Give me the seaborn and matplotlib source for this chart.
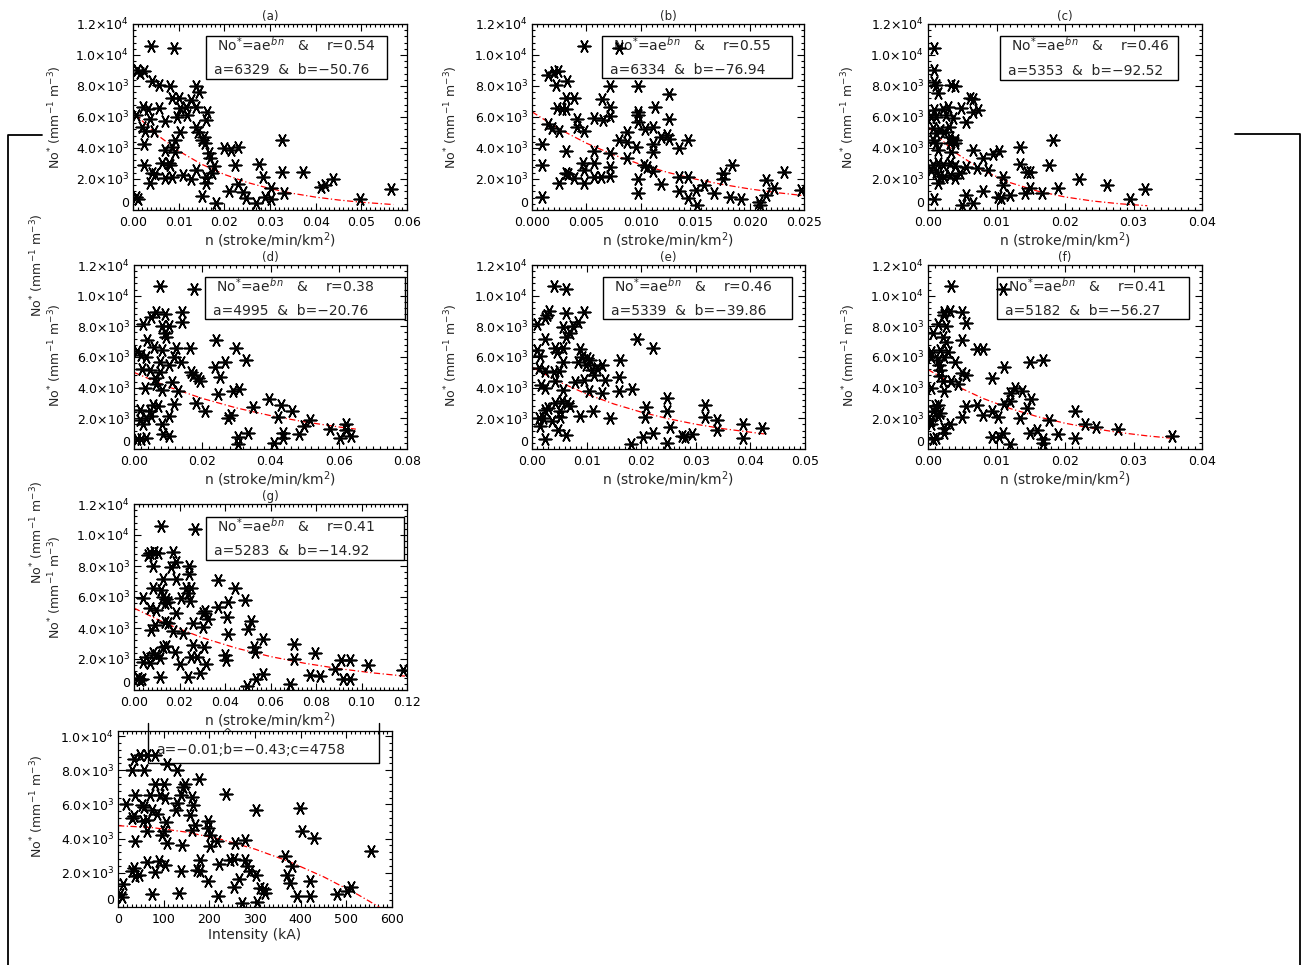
import numpy as np
import pandas as pd
import matplotlib
matplotlib.use("Agg")
import matplotlib.pyplot as plt
import seaborn as sns
from matplotlib.ticker import MultipleLocator, FuncFormatter
from matplotlib.patches import Rectangle
from matplotlib.lines import Line2D

W, H = 1305, 965

# ---- data: (n, No*) pairs per panel ----
a_pts = [(0.0040, 10600), (0.0089, 10430), (0.0009, 9030), (0.0016, 8815), (0.0025, 8990), (0.0042, 8320),
         (0.0056, 8060), (0.0082, 8000), (0.0137, 8000), (0.0144, 7630), (0.0086, 7200), (0.0100, 7245),
         (0.0128, 7100), (0.0021, 6620), (0.0032, 6515), (0.0058, 6560), (0.0104, 6560), (0.0116, 6665),
         (0.0137, 6620), (0.0163, 6340), (0.0007, 6130), (0.0038, 5850), (0.0097, 6020), (0.0119, 6130),
         (0.0159, 5800), (0.0071, 5760), (0.0020, 5375), (0.0027, 5120), (0.0045, 5120), (0.0137, 5375),
         (0.0143, 5050), (0.0104, 5050), (0.0155, 4730), (0.0152, 4515), (0.0157, 4340), (0.0092, 4515),
         (0.0326, 4515), (0.0025, 4260), (0.0086, 4085), (0.0069, 3870), (0.0093, 3760), (0.0166, 3655),
         (0.0168, 3330), (0.0199, 3980), (0.0214, 3870), (0.0229, 4085), (0.0023, 2900), (0.0064, 3010),
         (0.0082, 2900), (0.0078, 3050), (0.0177, 2860), (0.0223, 2900), (0.0276, 2970), (0.0284, 2150),
         (0.0327, 2470), (0.0373, 2470), (0.0042, 2365), (0.0049, 2320), (0.0038, 1760), (0.0071, 2040),
         (0.0086, 2100), (0.0109, 2260), (0.0128, 1980), (0.0138, 2580), (0.0159, 2150), (0.0160, 1720),
         (0.0174, 2365), (0.0229, 1655), (0.0210, 1250), (0.0152, 925), (0.0240, 1180), (0.0247, 750),
         (0.0269, 430), (0.0181, 430), (0.0289, 860), (0.0302, 1400), (0.0302, 710), (0.0331, 1075),
         (0.0412, 1505), (0.0421, 1610), (0.0437, 1980), (0.0496, 710), (0.0564, 1355), (0.0007, 860),
         (0.0010, 690)]

b_pts = [(0.00475, 10580), (0.0080, 10430), (0.0015, 8710), (0.0020, 8920), (0.0024, 8965), (0.0022, 8060),
         (0.0032, 8320), (0.0031, 7200), (0.0039, 7245), (0.0072, 8000), (0.0097, 8000), (0.0126, 7480),
         (0.0064, 7140), (0.0072, 6620), (0.0023, 6560), (0.0028, 6490), (0.0031, 6490), (0.0113, 6620),
         (0.0097, 6340), (0.0097, 6130), (0.0041, 5850), (0.0057, 5910), (0.0065, 5800), (0.0072, 6060),
         (0.0126, 5870), (0.0097, 5700), (0.0015, 5550), (0.0018, 5270), (0.0025, 5120), (0.0041, 5375),
         (0.0048, 5120), (0.0104, 5200), (0.0111, 5330), (0.0087, 5010), (0.0080, 4515), (0.0087, 4410),
         (0.0119, 4730), (0.0124, 4840), (0.0126, 4560), (0.0143, 4515), (0.0096, 4085), (0.0111, 4260),
         (0.0111, 3760), (0.0135, 3980), (0.0009, 4240), (0.0031, 3830), (0.0057, 3830), (0.0072, 3655),
         (0.0087, 3330), (0.0047, 3010), (0.0057, 3050), (0.0072, 2800), (0.0103, 2900), (0.0106, 2800),
         (0.0111, 2540), (0.0009, 2900), (0.0031, 2410), (0.0033, 2320), (0.0039, 2040), (0.0048, 2580),
         (0.0048, 1720), (0.0057, 2100), (0.0063, 2150), (0.0072, 2190), (0.0025, 1720), (0.0097, 2000),
         (0.0119, 1655), (0.0135, 2150), (0.0143, 2150), (0.0176, 2365), (0.0176, 2000), (0.0184, 2900),
         (0.0158, 1610), (0.0135, 1225), (0.0143, 750), (0.0151, 1290), (0.0152, 320), (0.0167, 1075),
         (0.0097, 1075), (0.0182, 860), (0.0192, 710), (0.0009, 860), (0.0209, 540), (0.0210, 320),
         (0.0215, 970), (0.0215, 1935), (0.0222, 1400), (0.0232, 2470), (0.0247, 1290)]

c_pts = [(0.0009, 10430), (0.0009, 9030), (0.0009, 8280), (0.0011, 8060), (0.0015, 7525), (0.0034, 8060),
         (0.0040, 8000), (0.0061, 7200), (0.0066, 7140), (0.0073, 6450), (0.0066, 6340), (0.0009, 6450),
         (0.0022, 6490), (0.0029, 6620), (0.0048, 6560), (0.0005, 6020), (0.0012, 6020), (0.0027, 6130),
         (0.0037, 5910), (0.0031, 5375), (0.0056, 5700), (0.0007, 5270), (0.0017, 5160), (0.0011, 4945),
         (0.0024, 5050), (0.0032, 4730), (0.0039, 4515), (0.0007, 4515), (0.0012, 4300), (0.0032, 4300),
         (0.0040, 4340), (0.0015, 3870), (0.0034, 3760), (0.0065, 3870), (0.0080, 3330), (0.0095, 3610),
         (0.0104, 3830), (0.0134, 4085), (0.0183, 4515), (0.0056, 2800), (0.0071, 2730), (0.0087, 2580),
         (0.0007, 2900), (0.0015, 3010), (0.0022, 2900), (0.0032, 3050), (0.0040, 2860), (0.0005, 2580),
         (0.0012, 2470), (0.0017, 2215), (0.0024, 2150), (0.0032, 2260), (0.0039, 2085), (0.0046, 2410),
         (0.0015, 1760), (0.0134, 2945), (0.0145, 2470), (0.0149, 2470), (0.0176, 2900), (0.0110, 2150),
         (0.0110, 1610), (0.0220, 1980), (0.0261, 1610), (0.0317, 1330), (0.0149, 1400), (0.0190, 1440),
         (0.0080, 1250), (0.0141, 1120), (0.0166, 1120), (0.0120, 970), (0.0102, 820), (0.0107, 800),
         (0.0055, 970), (0.0049, 320), (0.0065, 430), (0.0009, 710), (0.0295, 710)]

d_pts = [(0.0077, 10630), (0.0175, 10450), (0.0026, 8120), (0.0051, 8620), (0.0065, 8940), (0.0090, 8830),
         (0.0082, 8035), (0.0104, 8035), (0.0142, 8940), (0.0142, 8290), (0.0090, 7540), (0.0095, 7320),
         (0.0039, 7110), (0.0058, 6670), (0.0083, 6460), (0.0009, 6390), (0.0021, 6130), (0.0034, 6030),
         (0.0075, 5700), (0.0116, 6030), (0.0124, 6570), (0.0165, 6570), (0.0138, 5700), (0.0104, 5490),
         (0.0024, 5230), (0.0046, 5160), (0.0075, 5050), (0.0063, 4620), (0.0065, 4230), (0.0083, 3870),
         (0.0112, 4360), (0.0129, 3760), (0.0031, 3970), (0.0168, 5050), (0.0173, 4800), (0.0188, 4620),
         (0.0192, 4450), (0.0239, 7110), (0.0300, 6570), (0.0329, 5810), (0.0236, 5380), (0.0266, 5700),
         (0.0253, 4670), (0.0246, 3600), (0.0290, 3800), (0.0308, 3930), (0.0183, 3000), (0.0207, 2500),
         (0.0349, 2740), (0.0396, 3280), (0.0430, 2890), (0.0464, 2460), (0.0422, 2070), (0.0275, 1990),
         (0.0285, 2200), (0.0017, 2570), (0.0017, 1920), (0.0026, 1600), (0.0036, 2030), (0.0046, 2460),
         (0.0056, 2890), (0.0070, 2790), (0.0051, 2140), (0.0083, 1600), (0.0116, 2940), (0.0104, 2140),
         (0.0036, 730), (0.0021, 630), (0.0009, 630), (0.0085, 950), (0.0104, 840), (0.0305, 780),
         (0.0305, 300), (0.0334, 1060), (0.0410, 410), (0.0437, 730), (0.0437, 1060), (0.0484, 950),
         (0.0497, 1490), (0.0517, 1920), (0.0575, 1320), (0.0603, 730), (0.0622, 1600), (0.0622, 1270),
         (0.0637, 840)]

e_pts = [(0.0041, 10630), (0.0063, 10450), (0.0032, 8990), (0.0027, 8730), (0.0023, 8550), (0.0063, 8900),
         (0.0096, 8940), (0.0009, 8140), (0.0057, 7970), (0.0076, 8010), (0.0085, 8290), (0.0070, 7540),
         (0.0063, 7320), (0.0024, 7150), (0.0009, 6460), (0.0015, 6070), (0.0043, 6570), (0.0046, 6350),
         (0.0057, 6570), (0.0087, 6520), (0.0057, 5700), (0.0091, 6030), (0.0100, 5920), (0.0107, 5810),
         (0.0098, 5490), (0.0085, 5700), (0.0110, 5160), (0.0113, 4840), (0.0119, 5310), (0.0128, 5490),
         (0.0134, 4510), (0.0162, 5810), (0.0160, 4670), (0.0160, 3800), (0.0183, 3930), (0.0192, 7150),
         (0.0221, 6570), (0.0012, 5310), (0.0024, 5100), (0.0040, 5050), (0.0049, 5100), (0.0043, 4410),
         (0.0017, 4190), (0.0024, 3970), (0.0057, 3820), (0.0078, 4340), (0.0095, 4510), (0.0104, 3760),
         (0.0128, 3650), (0.0030, 2680), (0.0043, 3000), (0.0055, 3110), (0.0064, 3000), (0.0070, 2790),
         (0.0051, 2460), (0.0024, 2570), (0.0012, 2030), (0.0021, 2030), (0.0015, 1490), (0.0037, 1810),
         (0.0052, 2070), (0.0048, 1270), (0.0088, 2140), (0.0111, 2500), (0.0143, 1990), (0.0024, 670),
         (0.0063, 910), (0.0181, 350), (0.0204, 780), (0.0207, 2070), (0.0209, 2720), (0.0221, 1020),
         (0.0247, 3330), (0.0247, 2500), (0.0247, 370), (0.0252, 1430), (0.0274, 840), (0.0280, 780),
         (0.0293, 990), (0.0316, 2890), (0.0316, 2070), (0.0338, 1920), (0.0338, 1270), (0.0387, 1600),
         (0.0387, 690), (0.0421, 1380)]

f_pts = [(0.0034, 10630), (0.0109, 10450), (0.0024, 8940), (0.0032, 8990), (0.0049, 8940), (0.0024, 8730),
         (0.0015, 8120), (0.0026, 8010), (0.0055, 8250), (0.0007, 7540), (0.0022, 7320), (0.0049, 7110),
         (0.0027, 7000), (0.0005, 6350), (0.0005, 6030), (0.0017, 6460), (0.0029, 6310), (0.0024, 6030),
         (0.0015, 5810), (0.0016, 5490), (0.0017, 5160), (0.0039, 5700), (0.0071, 6520), (0.0080, 6520),
         (0.0050, 4950), (0.0056, 4840), (0.0044, 4230), (0.0017, 4730), (0.0022, 4410), (0.0033, 4410),
         (0.0024, 3760), (0.0005, 3970), (0.0094, 4620), (0.0111, 5380), (0.0149, 5660), (0.0168, 5810),
         (0.0127, 3970), (0.0137, 3760), (0.0120, 3650), (0.0120, 3110), (0.0111, 2940), (0.0151, 3280),
         (0.0144, 2680), (0.0071, 2890), (0.0055, 2790), (0.0080, 2250), (0.0094, 2500), (0.0102, 2070),
         (0.0134, 1990), (0.0176, 1860), (0.0215, 2500), (0.0049, 2100), (0.0032, 1600), (0.0010, 2790),
         (0.0015, 2890), (0.0007, 2460), (0.0017, 2350), (0.0005, 1920), (0.0015, 2140), (0.0024, 1380),
         (0.0024, 1060), (0.0005, 1600), (0.0007, 630), (0.0011, 730), (0.0094, 780), (0.0104, 780),
         (0.0110, 1060), (0.0120, 300), (0.0149, 1060), (0.0159, 1270), (0.0168, 630), (0.0168, 410),
         (0.0190, 950), (0.0215, 730), (0.0229, 1600), (0.0245, 1430), (0.0278, 1320), (0.0356, 840)]

g_pts = [(0.0120, 10600), (0.0267, 10360), (0.0062, 8710), (0.0072, 8860), (0.0086, 8920), (0.0105, 8860),
         (0.0171, 8920), (0.0084, 8000), (0.0164, 7910), (0.0186, 8280), (0.0242, 8000), (0.0242, 7480),
         (0.0127, 7140), (0.0186, 7160), (0.0369, 7100), (0.0084, 6560), (0.0120, 6450), (0.0230, 6560),
         (0.0252, 6560), (0.0442, 6560), (0.0237, 6240), (0.0040, 5960), (0.0127, 6020), (0.0142, 5850),
         (0.0208, 5910), (0.0245, 5760), (0.0486, 5800), (0.0413, 5700), (0.0069, 5270), (0.0098, 5160),
         (0.0135, 5590), (0.0150, 5700), (0.0186, 4990), (0.0311, 5120), (0.0303, 4945), (0.0325, 4560),
         (0.0369, 5330), (0.0409, 4690), (0.0091, 4190), (0.0076, 3870), (0.0135, 4410), (0.0150, 4300),
         (0.0171, 3805), (0.0215, 3655), (0.0259, 4300), (0.0303, 4085), (0.0413, 3590), (0.0501, 3910),
         (0.0516, 4470), (0.0567, 3270), (0.0526, 2800), (0.0531, 2470), (0.0702, 2945), (0.0702, 2000),
         (0.0794, 2410), (0.0911, 1935), (0.0948, 1935), (0.1028, 1610), (0.1182, 1290), (0.0882, 1330),
         (0.0919, 710), (0.0948, 690), (0.0772, 970), (0.0819, 900), (0.0684, 390), (0.0538, 710),
         (0.0567, 1010), (0.0497, 280), (0.0040, 1830), (0.0054, 2150), (0.0069, 1720), (0.0084, 2365),
         (0.0098, 2260), (0.0113, 2040), (0.0127, 2800), (0.0142, 2860), (0.0179, 2470), (0.0201, 1655),
         (0.0252, 2100), (0.0259, 2900), (0.0277, 2150), (0.0306, 2800), (0.0318, 1655), (0.0289, 1120),
         (0.0237, 860), (0.0116, 820), (0.0018, 750), (0.0025, 645), (0.0037, 690), (0.0398, 2260),
         (0.0406, 1935)]

h_pts = [(9, 580), (5, 740), (12, 1320), (18, 6010), (31, 8010), (34, 8690), (38, 3840), (34, 5300),
         (31, 5200), (38, 6560), (49, 8920), (56, 8010), (64, 8920), (80, 8920), (53, 5980), (56, 5880),
         (55, 5040), (64, 5100), (64, 4420), (71, 6560), (74, 5680), (82, 7220), (100, 7180), (107, 8340),
         (129, 8010), (85, 5430), (93, 6560), (104, 6360), (96, 4230), (100, 4420), (106, 4970), (107, 3740),
         (128, 5680), (129, 6070), (137, 6560), (142, 7040), (147, 7180), (140, 3650), (157, 5390), (162, 6460),
         (164, 5980), (162, 4520), (169, 4810), (177, 7490), (196, 5040), (198, 4620), (201, 4230), (202, 3550),
         (217, 3880), (237, 6600), (257, 3740), (279, 3940), (303, 5680), (398, 5820), (403, 4460), (430, 4040),
         (554, 3260), (31, 2100), (34, 2290), (38, 1800), (45, 1900), (64, 2640), (82, 2060), (89, 2680),
         (104, 2480), (137, 2130), (174, 2190), (179, 2770), (180, 2100), (198, 1550), (222, 2520), (246, 2740),
         (253, 2810), (279, 2770), (282, 2390), (288, 2100), (303, 1900), (266, 1610), (253, 1160), (220, 640),
         (133, 800), (74, 740), (272, 250), (304, 310), (312, 1130), (319, 1030), (322, 830), (366, 2970),
         (369, 1900), (377, 1420), (381, 2390), (392, 640), (421, 640), (421, 1550), (480, 740), (501, 930),
         (510, 1160)]

# fitted curves
a_fit_n = [0, 0.005, 0.01, 0.015, 0.02, 0.025, 0.03, 0.035, 0.04, 0.045, 0.05, 0.057]
a_fit_no = [6329, 4911, 3810, 2956, 2294, 1779, 1380, 1071, 831, 645, 500, 351]
b_fit_n = [0, 0.0025, 0.005, 0.0075, 0.01, 0.0125, 0.015, 0.0175, 0.02, 0.0225, 0.025]
b_fit_no = [6334, 5226, 4312, 3557, 2935, 2421, 1997, 1648, 1359, 1122, 925]
c_fit_n = [0, 0.004, 0.008, 0.012, 0.016, 0.020, 0.024, 0.028, 0.032]
c_fit_no = [5353, 3697, 2553, 1764, 1218, 841, 581, 401, 277]
d_fit_n = [0, 0.01, 0.02, 0.03, 0.04, 0.05, 0.06, 0.065]
d_fit_no = [4995, 4058, 3298, 2679, 2177, 1769, 1438, 1296]
e_fit_n = [0, 0.005, 0.01, 0.015, 0.02, 0.025, 0.03, 0.035, 0.043]
e_fit_no = [5339, 4374, 3584, 2936, 2406, 1971, 1615, 1323, 962]
f_fit_n = [0, 0.004, 0.008, 0.012, 0.016, 0.020, 0.024, 0.028, 0.032, 0.036]
f_fit_no = [5182, 4137, 3303, 2638, 2107, 1682, 1343, 1072, 856, 684]
g_fit_n = [0, 0.015, 0.03, 0.045, 0.06, 0.075, 0.09, 0.105, 0.12]
g_fit_no = [5283, 4224, 3377, 2700, 2158, 1725, 1379, 1103, 882]
h_fit_i = [0, 75, 150, 225, 300, 375, 450, 525, 572]
h_fit_no = [4758, 4648, 4383, 3963, 3387, 2656, 1770, 729, 0]

# annotation text
r_vals = ["0.54", "0.55", "0.46", "0.38", "0.46", "0.41", "0.41"]
a_vals = ["6329", "6334", "5353", "4995", "5339", "5182", "5283"]
b_vals = ["\u221250.76", "\u221276.94", "\u221292.52", "\u221220.76", "\u221239.86", "\u221256.27", "\u221214.92"]
h_coef = "a=\u22120.01;b=\u22120.43;c=4758"

YLAB = "No$^{*}$ (mm$^{-1}$ m$^{-3}$)"
XLAB = "n (stroke/min/km$^{2}$)"

sns.set_style("ticks")
plt.rcParams["font.family"] = ["DejaVu Sans"]
plt.rcParams["mathtext.fontset"] = "dejavusans"
FS = 9
STAR = (6, 2, 30)   # six-armed asterisk, vertical arm

fig = plt.figure(figsize=(W / 100, H / 100), dpi=100)


def fx(x):
    return x / W


def fy(y):
    return 1 - y / H


def y_fmt(v, pos):
    if v <= 0:
        return "0"
    e = int(np.floor(np.log10(v) + 1e-9))
    return f"{v / 10 ** e:.1f}\u00d710$^{{{e}}}$"


# layout in pixels: (left, top, right, bottom), box (left, top, right, bottom), ylabel centre
panels = [
    dict(t="(a)", r=(133, 24, 407, 210), pts=a_pts, fit=(a_fit_n, a_fit_no), xmax=0.06, xmaj=0.01, xmin=0.001, dec=2,
         box=(206, 36, 387, 79), yl=(55, 117)),
    dict(t="(b)", r=(532, 24, 804, 210), pts=b_pts, fit=(b_fit_n, b_fit_no), xmax=0.025, xmaj=0.005, xmin=0.0005, dec=3,
         box=(602, 36, 792, 78), yl=(451, 117)),
    dict(t="(c)", r=(928, 24, 1202, 210), pts=c_pts, fit=(c_fit_n, c_fit_no), xmax=0.04, xmaj=0.01, xmin=0.001, dec=2,
         box=(1000, 36, 1178, 80), yl=(848, 117)),
    dict(t="(d)", r=(134, 265, 407, 449), pts=d_pts, fit=(d_fit_n, d_fit_no), xmax=0.08, xmaj=0.02, xmin=0.002, dec=2,
         box=(205, 277, 405, 319), yl=(55, 355)),
    dict(t="(e)", r=(532, 265, 805, 449), pts=e_pts, fit=(e_fit_n, e_fit_no), xmax=0.05, xmaj=0.01, xmin=0.001, dec=2,
         box=(603, 277, 792, 319), yl=(451, 355)),
    dict(t="(f)", r=(928, 265, 1202, 449), pts=f_pts, fit=(f_fit_n, f_fit_no), xmax=0.04, xmaj=0.01, xmin=0.001, dec=2,
         box=(997, 277, 1189, 319), yl=(849, 355)),
    dict(t="(g)", r=(134, 504, 407, 690), pts=g_pts, fit=(g_fit_n, g_fit_no), xmax=0.12, xmaj=0.02, xmin=0.002, dec=2,
         box=(206, 517, 404, 560), yl=(55, 587)),
]


def style_axes(ax, xmax, xmaj, xmin, dec, ymax):
    ax.set_xlim(0, xmax)
    ax.set_ylim(0, ymax)
    ax.xaxis.set_major_locator(MultipleLocator(xmaj))
    ax.xaxis.set_minor_locator(MultipleLocator(xmin))
    ax.yaxis.set_major_locator(MultipleLocator(2000))
    ax.yaxis.set_minor_locator(MultipleLocator(400))
    ax.xaxis.set_major_formatter(FuncFormatter(lambda v, p: f"{v:.{dec}f}"))
    ax.yaxis.set_major_formatter(FuncFormatter(y_fmt))
    ax.tick_params(which="both", direction="in", top=True, right=True, width=0.8,
                   labelsize=FS, colors="black")
    ax.tick_params(which="major", length=5)
    ax.tick_params(which="minor", length=2.5)
    ax.tick_params(axis="x", pad=4.5)
    ax.tick_params(axis="y", pad=3)
    for s in ax.spines.values():
        s.set_linewidth(0.9)
        s.set_color("black")
    ax.set_ylabel("")
    # the zero label sits above the axis corner, as in the original
    for lab in ax.get_yticklabels():
        if lab.get_text() == "0":
            lab.set_va("bottom")


def draw_box(ax, box, closed=True):
    l, t, r, b = box
    if closed:
        ax.add_patch(Rectangle((fx(l), fy(b)), fx(r - l), (b - t) / H, transform=fig.transFigure,
                               fill=False, edgecolor="black", lw=1.0, clip_on=False, zorder=1))
    else:
        ax.add_line(Line2D([fx(l), fx(l), fx(r), fx(r)], [fy(t), fy(b), fy(b), fy(t)],
                           transform=fig.transFigure, color="black", lw=1.0, clip_on=False, zorder=1))


for i, p in enumerate(panels):
    l, t, r, b = p["r"]
    ax = fig.add_axes([fx(l), fy(b), fx(r - l), (b - t) / H])
    df = pd.DataFrame(p["pts"], columns=["n", "no"])
    sns.scatterplot(data=df, x="n", y="no", ax=ax, marker=STAR, s=80, color="black",
                    edgecolor="black", linewidth=1.2, legend=False, zorder=3)
    fit = pd.DataFrame({"n": p["fit"][0], "no": p["fit"][1]})
    sns.lineplot(data=fit, x="n", y="no", ax=ax, color="red", lw=0.9, sort=False,
                 estimator=None, linestyle=(0, (5, 2, 1, 2)), legend=False, zorder=2)
    style_axes(ax, p["xmax"], p["xmaj"], p["xmin"], p["dec"], 12000)
    ax.set_title(p["t"], fontsize=8.5, pad=3)
    ax.set_xlabel(XLAB, fontsize=10, labelpad=1)
    bl, bt, br, bb = p["box"]
    draw_box(ax, p["box"])
    hgt = bb - bt
    ax.text(fx(bl + 11), fy(bt + 0.21 * hgt),
            f"No$^{{*}}$=ae$^{{b\\,n}}$   &    r={r_vals[i]}",
            transform=fig.transFigure, fontsize=10, va="center", ha="left", zorder=1)
    ax.text(fx(bl + 8), fy(bt + 0.8 * hgt), f"a={a_vals[i]}  &  b={b_vals[i]}",
            transform=fig.transFigure, fontsize=10, va="center", ha="left", zorder=1)
    fig.text(fx(p["yl"][0]), fy(p["yl"][1]), YLAB, rotation=90, fontsize=FS, ha="center", va="center")

# bottom panel: intensity
ax = fig.add_axes([fx(118), fy(907), fx(392 - 118), (907 - 731) / H])
dfh = pd.DataFrame(h_pts, columns=["i", "no"])
sns.scatterplot(data=dfh, x="i", y="no", ax=ax, marker=STAR, s=80, color="black",
                edgecolor="black", linewidth=1.2, legend=False, zorder=3)
fith = pd.DataFrame({"i": h_fit_i, "no": h_fit_no})
sns.lineplot(data=fith, x="i", y="no", ax=ax, color="red", lw=0.9, sort=False,
             estimator=None, linestyle=(0, (5, 2, 1, 2)), legend=False, zorder=2)
style_axes(ax, 600, 100, 10, 0, 10300)
ax.set_xlabel("Intensity (kA)", fontsize=10, labelpad=1)
draw_box(ax, (148, 723, 379, 763), closed=False)
ax.text(fx(156), fy(750), h_coef, transform=fig.transFigure, fontsize=10,
        va="center", ha="left", zorder=1)
ax.text(fx(228), fy(733), "^", transform=fig.transFigure, fontsize=8, va="center", ha="center")
fig.text(fx(37), fy(806), YLAB, rotation=90, fontsize=FS, ha="center", va="center")

# stray overlapping labels and bracket lines from the composite
fig.text(fx(37), fy(265), YLAB, rotation=90, fontsize=FS, ha="center", va="center")
fig.text(fx(37), fy(532), YLAB, rotation=90, fontsize=FS, ha="center", va="center")
fig.add_artist(Line2D([fx(42), fx(8), fx(8)], [fy(135), fy(135), fy(965)],
                      transform=fig.transFigure, color="black", lw=1.3))
fig.add_artist(Line2D([fx(1235), fx(1300), fx(1300)], [fy(134), fy(134), fy(965)],
                      transform=fig.transFigure, color="black", lw=1.3))

fig.savefig("out.png", dpi=100, facecolor="white")
